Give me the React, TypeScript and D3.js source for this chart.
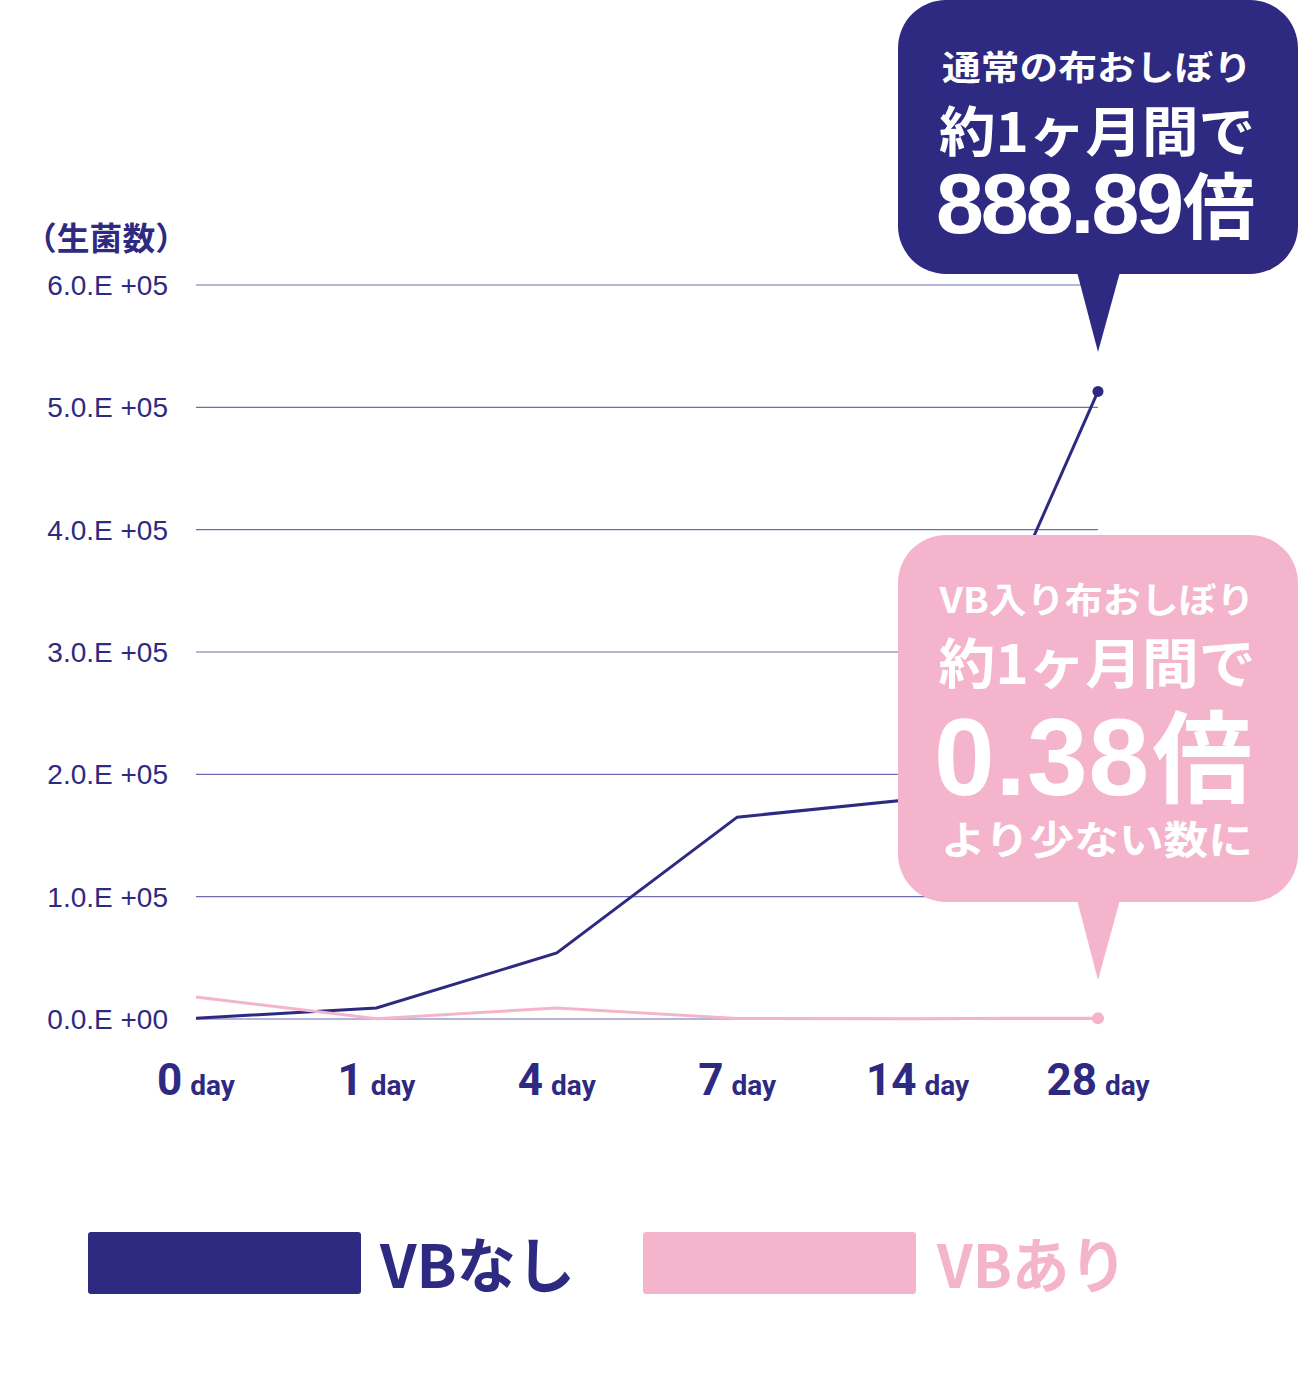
import React, { useEffect, useRef } from 'react';
import * as d3 from 'd3';

// day categories on the x axis
const days = ['0', '1', '4', '7', '14', '28'];
// viable bacteria count, without VB (navy) and with VB (pink)
const vbNone = [577, 9000, 54000, 165000, 180000, 513000];
const vbWith = [18000, 300, 9000, 500, 300, 700];
const yTicks = [0, 100000, 200000, 300000, 400000, 500000, 600000];
const yTickLabels = ['0.0.E +00', '1.0.E +05', '2.0.E +05', '3.0.E +05', '4.0.E +05', '5.0.E +05', '6.0.E +05'];
const seriesNames = ['VBなし', 'VBあり'];

const NAVY = '#2e2a82';
const PINK = '#f4b5cc';
const GRID = '#6f6cb0';
const JP = '"Noto Sans CJK JP", "Noto Sans", sans-serif';
const LATIN = '"Liberation Sans", Arial, sans-serif';

const App: React.FC = () => {
  const svgRef = useRef<SVGSVGElement>(null);

  useEffect(() => {
    if (!svgRef.current) return;
    const svg = d3.select(svgRef.current);
    svg.selectAll('*').remove();

    const x = d3.scalePoint<string>().domain(days).range([196, 1098]);
    const y = d3.scaleLinear().domain([0, 600000]).range([1019, 285]);

    // grid lines + y labels
    const grid = svg.append('g');
    grid.selectAll('line')
      .data(yTicks)
      .enter()
      .append('line')
      .attr('x1', 196)
      .attr('x2', 1098)
      .attr('y1', d => y(d))
      .attr('y2', d => y(d))
      .attr('stroke', GRID)
      .attr('stroke-width', 1.2);

    grid.selectAll('text')
      .data(yTicks)
      .enter()
      .append('text')
      .attr('x', 168)
      .attr('y', d => y(d) + 10)
      .attr('text-anchor', 'end')
      .attr('font-family', LATIN)
      .attr('font-size', 28)
      .attr('fill', NAVY)
      .text((d, i) => yTickLabels[i]);

    svg.append('text')
      .attr('x', 24)
      .attr('y', 250)
      .attr('font-family', JP)
      .attr('font-weight', 700)
      .attr('font-size', 32)
      .attr('fill', NAVY)
      .attr('textLength', 164)
      .attr('lengthAdjust', 'spacingAndGlyphs')
      .text('（生菌数）');

    // x labels
    const xl = svg.append('g')
      .selectAll('text')
      .data(days)
      .enter()
      .append('text')
      .attr('x', d => x(d)!)
      .attr('y', 1095)
      .attr('text-anchor', 'middle')
      .attr('font-family', 'Roboto, sans-serif')
      .attr('font-weight', 700)
      .attr('fill', NAVY);
    xl.append('tspan').attr('font-size', 44).text(d => d);
    xl.append('tspan').attr('font-size', 28).attr('dx', 8).text('day');

    // lines
    const line = d3.line<number>()
      .x((d, i) => x(days[i])!)
      .y(d => y(d));

    svg.append('path')
      .attr('d', line(vbNone))
      .attr('fill', 'none')
      .attr('stroke', NAVY)
      .attr('stroke-width', 3);

    svg.append('path')
      .attr('d', line(vbWith))
      .attr('fill', 'none')
      .attr('stroke', PINK)
      .attr('stroke-width', 3);

    const last = days.length - 1;
    svg.append('circle')
      .attr('cx', x(days[last])!)
      .attr('cy', y(vbNone[last]))
      .attr('r', 5.5)
      .attr('fill', NAVY);
    svg.append('circle')
      .attr('cx', x(days[last])!)
      .attr('cy', y(vbWith[last]))
      .attr('r', 6)
      .attr('fill', PINK);

    // callout bubbles
    const bubble = (top: number, bottom: number, tipY: number, color: string) => {
      const g = svg.append('g');
      g.append('rect')
        .attr('x', 898)
        .attr('y', top)
        .attr('width', 400)
        .attr('height', bottom - top)
        .attr('rx', 48)
        .attr('fill', color);
      g.append('path')
        .attr('d', `M1077,${bottom - 2}L1120,${bottom - 2}L1098,${tipY}Z`)
        .attr('fill', color);
      return g;
    };

    const addText = (g: any, txt: string, yy: number, size: number, len: number) => {
      g.append('text')
        .attr('x', 1097)
        .attr('y', yy)
        .attr('text-anchor', 'middle')
        .attr('font-family', JP)
        .attr('font-weight', 700)
        .attr('font-size', size)
        .attr('fill', '#ffffff')
        .attr('textLength', len)
        .attr('lengthAdjust', 'spacingAndGlyphs')
        .text(txt);
    };

    // big ratio: latin digits + CJK 倍 in one text
    const addRatio = (g: any, num: string, xx: number, yy: number, size: number, spacing: number, kSize: number) => {
      const t = g.append('text')
        .attr('x', xx)
        .attr('y', yy)
        .attr('font-weight', 700)
        .attr('fill', '#ffffff');
      t.append('tspan')
        .attr('font-family', LATIN)
        .attr('font-size', size)
        .attr('letter-spacing', spacing)
        .text(num);
      t.append('tspan')
        .attr('font-family', JP)
        .attr('font-size', kSize)
        .attr('dx', 2)
        .text('倍');
    };

    const b1 = bubble(0, 274, 352, NAVY);
    addText(b1, '通常の布おしぼり', 80, 34, 310);
    addText(b1, '約1ヶ月間で', 152, 54, 316);
    addRatio(b1, '888.89', 936, 233, 86, -3, 72);

    const b2 = bubble(535, 902, 980, PINK);
    addText(b2, 'VB入り布おしぼり', 613, 35, 315);
    addText(b2, '約1ヶ月間で', 684, 54, 317);
    addRatio(b2, '0.38', 934, 795, 109, 1, 100);
    addText(b2, 'より少ない数に', 854, 39, 312);

    // legend
    const legend = svg.append('g')
      .selectAll('g')
      .data(seriesNames)
      .enter()
      .append('g')
      .attr('transform', (d, i) => `translate(${88 + i * 555},0)`);
    legend.append('rect')
      .attr('x', 0)
      .attr('y', 1232)
      .attr('width', 273)
      .attr('height', 62)
      .attr('rx', 3)
      .attr('fill', (d, i) => (i === 0 ? NAVY : PINK));
    legend.append('text')
      .attr('x', (d, i) => (i === 0 ? 292 : 294))
      .attr('y', 1288)
      .attr('font-family', JP)
      .attr('font-weight', 700)
      .attr('font-size', 60)
      .attr('fill', (d, i) => (i === 0 ? NAVY : PINK))
      .attr('textLength', (d, i) => (i === 0 ? 195 : 190))
      .attr('lengthAdjust', 'spacingAndGlyphs')
      .text(d => d);
  }, []);

  return (
    <svg
      ref={svgRef}
      width={1300}
      height={1384}
      style={{ position: 'absolute', left: 0, top: 0, background: '#ffffff' }}
    ></svg>
  );
};

export default App;
